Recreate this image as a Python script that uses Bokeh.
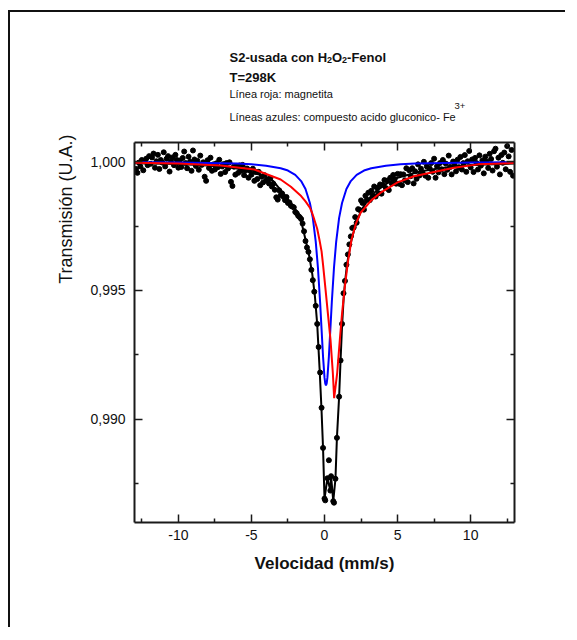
from bokeh.plotting import figure
from bokeh.layouts import column
from bokeh.models import LinearAxis, FixedTicker, CustomJSTickFormatter, Range1d, Title
from bokeh.core.properties import value
from bokeh.embed import file_html
from bokeh.resources import INLINE

# ---------------- data ----------------
vel = [-12.9, -12.8, -12.7, -12.6, -12.5, -12.4, -12.3, -12.2, -12.1, -12.0,
       -11.9, -11.8, -11.7, -11.6, -11.5, -11.4, -11.3, -11.2, -11.1, -11.0,
       -10.9, -10.8, -10.7, -10.6, -10.5, -10.4, -10.3, -10.2, -10.1, -10.0,
       -9.9, -9.8, -9.7, -9.6, -9.5, -9.4, -9.3, -9.2, -9.1, -9.0,
       -8.9, -8.8, -8.7, -8.6, -8.5, -8.4, -8.3, -8.2, -8.1, -8.0,
       -7.9, -7.8, -7.7, -7.6, -7.5, -7.4, -7.3, -7.2, -7.1, -7.0,
       -6.9, -6.8, -6.7, -6.6, -6.5, -6.4, -6.3, -6.2, -6.1, -6.0,
       -5.9, -5.8, -5.7, -5.6, -5.5, -5.4, -5.3, -5.2, -5.1, -5.0,
       -4.9, -4.8, -4.7, -4.6, -4.5, -4.4, -4.3, -4.2, -4.1, -4.0,
       -3.9, -3.8, -3.7, -3.6, -3.5, -3.4, -3.3, -3.2, -3.1, -3.0,
       -2.9, -2.8, -2.7, -2.6, -2.5, -2.4, -2.3, -2.2, -2.1, -2.0,
       -1.9, -1.8, -1.7, -1.6, -1.5, -1.4, -1.3, -1.2, -1.1, -1.0,
       -0.9, -0.8, -0.7, -0.6, -0.5, -0.4, -0.3, -0.2, -0.1,
       0.0, 0.05, 0.2, 0.3, 0.4, 0.45, 0.6, 0.65, 0.75, 0.85,
       1.0, 1.1, 1.2, 1.3, 1.4, 1.5, 1.6, 1.7, 1.8, 1.9,
       2.0, 2.1, 2.2, 2.3, 2.4, 2.5, 2.6, 2.7, 2.8, 2.9,
       3.0, 3.1, 3.2, 3.3, 3.4, 3.5, 3.6, 3.7, 3.8, 3.9,
       4.0, 4.1, 4.2, 4.3, 4.4, 4.5, 4.6, 4.7, 4.8, 4.9,
       5.0, 5.1, 5.2, 5.3, 5.4, 5.5, 5.6, 5.7, 5.8, 5.9,
       6.0, 6.1, 6.2, 6.3, 6.4, 6.5, 6.6, 6.7, 6.8, 6.9,
       7.0, 7.1, 7.2, 7.3, 7.4, 7.5, 7.6, 7.7, 7.8, 7.9,
       8.0, 8.1, 8.2, 8.3, 8.4, 8.5, 8.6, 8.7, 8.8, 8.9,
       9.0, 9.1, 9.2, 9.3, 9.4, 9.5, 9.6, 9.7, 9.8, 9.9,
       10.0, 10.1, 10.2, 10.3, 10.4, 10.5, 10.6, 10.7, 10.8, 10.9,
       11.0, 11.1, 11.2, 11.3, 11.4, 11.5, 11.6, 11.7, 11.8, 11.9,
       12.0, 12.1, 12.2, 12.3, 12.4, 12.5, 12.6, 12.7, 12.8, 12.9]

trans = [0.99972, 0.99957, 0.99997, 0.99982, 1.00007, 0.99967, 1.00002, 1.00012, 0.99987, 1.00022,
         0.99992, 1.00017, 1.00032, 0.99977, 1.00002, 1.00027, 0.99972, 1.00007, 0.99997, 1.00037,
         0.99982, 1.00012, 1.00022, 0.99962, 1.00002, 1.00017, 0.99987, 1.00027, 1.00007, 0.99977,
         1.00005, 0.99980, 1.00015, 1.00040, 0.99995, 0.99975, 1.00020, 1.00000, 0.99965, 1.00044,
         1.00009, 0.99984, 1.00004, 0.99969, 1.00024, 0.99988, 0.99998, 0.99942, 0.99926, 1.00006,
         0.99976, 1.00016, 0.99965, 0.99990, 0.99970, 0.99994, 0.99979, 1.00008, 0.99953, 0.99982,
         0.99991, 0.99960, 0.99995, 0.99974, 0.99998, 0.99922, 0.99906, 0.99981, 0.99950, 0.99984,
         0.99957, 0.99986, 0.99965, 0.99988, 0.99948, 0.99966, 0.99974, 0.99938, 0.99966, 0.99950,
         0.99973, 0.99926, 0.99960, 0.99933, 0.99961, 0.99909, 0.99942, 0.99920, 0.99948, 0.99927,
         0.99929, 0.99916, 0.99937, 0.99904, 0.99915, 0.99891, 0.99862, 0.99853, 0.99889, 0.99870,
         0.99877, 0.99864, 0.99851, 0.99863, 0.99840, 0.99842, 0.99829, 0.99826, 0.99823, 0.99805,
         0.99800, 0.99790, 0.99785, 0.99778, 0.99760, 0.99730, 0.99692, 0.99667, 0.99650, 0.99621,
         0.99580, 0.99540, 0.99495, 0.99440, 0.99370, 0.99280, 0.99181, 0.99044, 0.98888,
         0.98691, 0.98684, 0.98770, 0.98840, 0.98722, 0.98778, 0.98681, 0.98675, 0.98768, 0.98927,
         0.99087, 0.99228, 0.99370, 0.99489, 0.99537, 0.99600, 0.99640, 0.99679, 0.99710, 0.99743,
         0.99745, 0.99785, 0.99763, 0.99816, 0.99813, 0.99850, 0.99840, 0.99814, 0.99868, 0.99852,
         0.99880, 0.99851, 0.99887, 0.99868, 0.99904, 0.99865, 0.99899, 0.99878, 0.99912, 0.99876,
         0.99910, 0.99929, 0.99898, 0.99927, 0.99890, 0.99938, 0.99916, 0.99949, 0.99932, 0.99915,
         0.99953, 0.99915, 0.99952, 0.99909, 0.99951, 0.99928, 0.99975, 0.99921, 0.99967, 0.99944,
         0.99975, 0.99916, 0.99963, 0.99934, 0.99990, 0.99947, 0.99973, 0.99959, 1.00000, 0.99946,
         0.99982, 0.99938, 0.99974, 0.99995, 0.99961, 1.00012, 0.99938, 0.99983, 0.99959, 0.99995,
         0.99971, 1.00007, 0.99952, 0.99993, 0.99969, 1.00024, 0.99980, 0.99951, 1.00001, 0.99987,
         0.99963, 1.00008, 0.99979, 1.00019, 0.99970, 0.99995, 1.00026, 0.99961, 1.00002, 1.00042,
         0.99978, 1.00009, 0.99960, 1.00015, 0.99995, 0.99970, 1.00025, 0.99985, 1.00005, 0.99955,
         1.00020, 1.00001, 0.99976, 1.00031, 1.00011, 0.99966, 1.00041, 1.00051, 0.99981, 1.00016,
         0.99951, 1.00026, 0.99996, 1.00036, 0.99971, 1.00061, 1.00021, 0.99961, 1.00046, 0.99946]

# total fit (black line)
fit_x = [-13.0, -10.0, -8.0, -7.0, -6.0, -5.0, -4.0, -3.5, -3.0, -2.55, -2.0, -1.64, -1.3,
         -1.05, -0.84, -0.66, -0.5, -0.34, -0.21, -0.1, 0.0, 0.2, 0.4, 0.45, 0.6, 0.75, 0.85,
         1.0, 1.1, 1.2, 1.3, 1.4, 1.55, 1.8, 2.1, 2.5, 3.0, 3.5, 4.3, 5.0, 6.6, 8.0, 10.0, 13.0]
fit_y = [0.99994, 0.99991, 0.99986, 0.99982, 0.99974, 0.99960, 0.99942, 0.99925, 0.99890,
         0.99858, 0.99815, 0.99780, 0.99698, 0.99635, 0.99565, 0.99480, 0.99370, 0.99200,
         0.99044, 0.98888, 0.98691, 0.98770, 0.98722, 0.98778, 0.98681, 0.98768, 0.98927,
         0.99087, 0.99230, 0.99360, 0.99460, 0.99530, 0.99605, 0.99685, 0.99750, 0.99810,
         0.99855, 0.99885, 0.99917, 0.99938, 0.99963, 0.99976, 0.99988, 0.99993]

# blue component (compuesto acido gluconico - Fe3+)
blue_x = [-13.0, -10.0, -8.0, -6.0, -5.0, -4.0, -3.0, -2.5, -2.0, -1.6, -1.3, -1.0, -0.8,
          -0.6, -0.45, -0.3, -0.2, -0.1, 0.0, 0.05, 0.1, 0.15, 0.2, 0.3, 0.4, 0.5, 0.65,
          0.8, 1.0, 1.2, 1.5, 1.8, 2.2, 2.7, 3.2, 4.2, 5.2, 6.2, 8.2, 10.2, 13.0]
blue_y = [0.99998, 0.99997, 0.99995, 0.99993, 0.99990, 0.99985, 0.99975, 0.99966, 0.99949,
          0.99925, 0.99894, 0.99840, 0.99782, 0.99690, 0.99589, 0.99454, 0.99348, 0.99243,
          0.99162, 0.99139, 0.99131, 0.99139, 0.99162, 0.99243, 0.99348, 0.99454, 0.99589,
          0.99690, 0.99782, 0.99840, 0.99894, 0.99925, 0.99949, 0.99966, 0.99975, 0.99985,
          0.99990, 0.99993, 0.99995, 0.99997, 0.99998]

# red component (magnetita)
red_x = [-13.0, -10.0, -7.1, -4.8, -3.0, -2.3, -1.6, -1.3, -1.0, -0.85, -0.7, -0.5, -0.35,
         -0.2, -0.1, 0.07, 0.25, 0.41, 0.57, 0.66, 0.87, 1.05, 1.2, 1.37, 1.6, 1.85, 2.15,
         2.47, 3.2, 3.84, 5.0, 6.12, 8.86, 10.5, 13.0]
red_y = [0.99996, 0.99993, 0.99986, 0.99970, 0.99931, 0.99903, 0.99867, 0.99846, 0.99822,
         0.99802, 0.99776, 0.99740, 0.99698, 0.99652, 0.99600, 0.99504, 0.99400, 0.99309,
         0.99180, 0.99081, 0.99180, 0.99309, 0.99410, 0.99504, 0.99610, 0.99698, 0.99760,
         0.99802, 0.99850, 0.99880, 0.99920, 0.99944, 0.99977, 0.99990, 0.99995]

x_major = [-10, -5, 0, 5, 10]
x_minor = [-12.5, -7.5, -2.5, 2.5, 7.5, 12.5]
y_major = [0.990, 0.995, 1.000]
y_minor = [0.9875, 0.9925, 0.9975]

title_parts = ["S2-usada con H", "2", "O", "2", "-Fenol"]
subtitle = "T=298K"
note_lines = ["Línea roja: magnetita", "Líneas azules: compuesto acido gluconico- Fe"]
note_sup = "3+"
x_label = "Velocidad (mm/s)"
y_label = "Transmisión (U.A.)"

# ---------------- layout ----------------
X0, X1 = -13.0, 13.0
Y0, Y1 = 0.98598, 1.00075
W = 555
HH = 120                 # header height
H = 495                  # main figure height
ML, MT, MR, MB = 124, 10, 51, 105
FL, FR = 134, 514        # page x of the (aligned) frames
CY = 16                  # page y of the header's top
FONT = "Liberation Sans"
AX = "#1a1a1a"
TXT = "#111111"

# header with the text block; its frame is aligned with the main frame (page x 134..514)
hd = figure(width=W, height=HH, x_range=Range1d(FL, FR), y_range=Range1d(HH, 0),
            output_backend="svg", toolbar_location=None, x_axis_type=None, y_axis_type=None,
            min_border=0)
hd.outline_line_color = None
hd.grid.visible = False
hd.border_fill_color = "white"
hd.background_fill_color = "white"


def htext(px_list, py_list, texts, size, style):
    hd.text(x=list(px_list), y=[v - CY for v in py_list], text=texts,
            text_font=value(FONT), text_font_size=value(size), text_font_style=value(style),
            text_color=TXT, text_align=value("left"), text_baseline=value("alphabetic"))


htext([229, 331.5, 346.6, 229], [60.8, 60.8, 60.8, 81.0],
      [title_parts[0], title_parts[2], title_parts[4], subtitle], "13px", "bold")
htext([326.5, 341.6], [63.8, 63.8], [title_parts[1], title_parts[3]], "9px", "bold")
htext([229, 229], [97.0, 120.5], note_lines, "11px", "normal")
htext([454], [109.0], [note_sup], "9.5px", "normal")

# main plot
p = figure(width=W, height=H, x_range=Range1d(X0, X1), y_range=Range1d(Y0, Y1),
           output_backend="svg", toolbar_location=None,
           min_border_left=ML, min_border_top=MT, min_border_right=MR, min_border_bottom=MB)
p.grid.visible = False
p.outline_line_color = None
p.background_fill_color = "white"
p.border_fill_color = "white"

bottom = p.below[0]
left = p.left[0]

bottom.ticker = FixedTicker(ticks=x_major, minor_ticks=x_minor)
left.ticker = FixedTicker(ticks=y_major, minor_ticks=y_minor)
bottom.formatter = CustomJSTickFormatter(code="return tick.toFixed(0);")
left.formatter = CustomJSTickFormatter(code="return tick.toFixed(3).replace('.', ',');")

top = LinearAxis(ticker=FixedTicker(ticks=x_major, minor_ticks=x_minor),
                 formatter=CustomJSTickFormatter(code="return '';"))
right = LinearAxis(ticker=FixedTicker(ticks=y_major, minor_ticks=y_minor),
                   formatter=CustomJSTickFormatter(code="return '';"))
p.add_layout(top, "above")
p.add_layout(right, "right")

for ax in [bottom, left, top, right]:
    ax.axis_line_width = 2
    ax.axis_line_color = AX
    ax.major_tick_in = 8
    ax.major_tick_out = 0
    ax.minor_tick_in = 4
    ax.minor_tick_out = 0
    ax.major_tick_line_color = AX
    ax.minor_tick_line_color = AX
    ax.major_tick_line_width = 1.5
    ax.minor_tick_line_width = 1.5
    ax.major_label_text_font = FONT
    ax.major_label_text_color = TXT

bottom.major_label_text_font_size = "14px"
left.major_label_text_font_size = "14px"
top.major_label_text_font_size = "1px"
right.major_label_text_font_size = "1px"
top.major_label_standoff = 0
right.major_label_standoff = 0

bottom.major_label_standoff = 7
left.major_label_standoff = 9
bottom.axis_label = x_label
bottom.axis_label_text_font = FONT
bottom.axis_label_text_font_style = "bold"
bottom.axis_label_text_font_size = "17px"
bottom.axis_label_text_color = TXT
bottom.axis_label_standoff = 11

# y label sits toward the top of the axis, as in the original
p.add_layout(Title(text=y_label, align="right", offset=-8, standoff=24,
                   text_font=FONT, text_font_size="18px", text_font_style="normal",
                   text_color=TXT), "left")

# ---------------- marks ----------------
p.scatter(vel, trans, size=5, marker="circle", fill_color="black", line_color="black")
p.line(fit_x, fit_y, line_color="black", line_width=2)
p.line(blue_x, blue_y, line_color="#0000ff", line_width=2)
p.line(red_x, red_y, line_color="#ff0000", line_width=2)

lay = column(hd, p, spacing=0)
lay.styles = {"border-left": "2px solid #111111", "border-top": "2px solid #111111",
              "margin-top": "10px", "margin-left": "8px"}

open("out.html", "w").write(file_html(lay, INLINE))
